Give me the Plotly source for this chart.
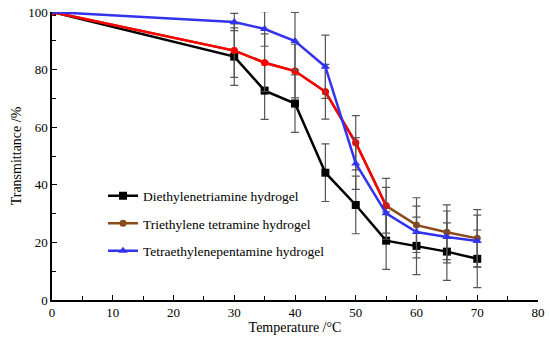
import plotly.graph_objects as go

temps = [0, 30, 35, 40, 45, 50, 55, 60, 65, 70]
deta = [100, 84.5, 72.7, 68.2, 44.2, 33.0, 20.6, 18.8, 16.8, 14.3]
deta_err = [0, 10, 10, 10, 10, 10, 10, 10, 10, 10]
teta = [100, 86.6, 82.4, 79.5, 72.3, 54.6, 32.7, 26.0, 23.5, 21.4]
teta_err = [0, 9.3, 10, 9.3, 9.5, 9.4, 9.5, 9.5, 9.5, 10]
tepa = [100, 96.5, 94.1, 89.9, 81.0, 47.4, 30.1, 23.6, 21.9, 20.5]
tepa_err = [0, 3, 6, 10, 11, 9, 9, 9, 9, 9]
names = ["Diethylenetriamine hydrogel", "Triethylene tetramine hydrogel",
         "Tetraethylenepentamine hydrogel"]
n_red = 7  # red part of the triethylene curve (0..50 °C)

FONT = "Liberation Serif, Times New Roman, serif"
ebar = dict(type="data", visible=True, color="#555555", thickness=1.2, width=4)

fig = go.Figure()
fig.add_trace(go.Scatter(x=temps, y=deta, name=names[0], mode="lines+markers",
                         line=dict(color="black", width=2.5),
                         marker=dict(symbol="square", size=8, color="black"),
                         error_y=dict(array=deta_err, **ebar), legendgroup="a"))
fig.add_trace(go.Scatter(x=temps, y=teta, name=names[1], mode="lines+markers",
                         line=dict(color="#8B4A1A", width=2.5),
                         marker=dict(symbol="circle", size=7, color="#8B4A1A"),
                         error_y=dict(array=teta_err, **ebar), legendgroup="b"))
fig.add_trace(go.Scatter(x=temps[:n_red], y=teta[:n_red], mode="lines+markers",
                         showlegend=False,
                         line=dict(color="#FF0000", width=2.5),
                         marker=dict(symbol="circle", size=7, color="#FF0000"),
                         legendgroup="b"))
fig.add_trace(go.Scatter(x=temps, y=tepa, name=names[2], mode="lines+markers",
                         line=dict(color="#3333EE", width=2.5),
                         marker=dict(symbol="triangle-up", size=8, color="#3333EE"),
                         error_y=dict(array=tepa_err, **ebar), legendgroup="c"))

fig.update_layout(
    width=550, height=342,
    margin=dict(l=52, r=12, t=12, b=42),
    paper_bgcolor="white", plot_bgcolor="white",
    font=dict(family=FONT, size=13, color="black"),
    showlegend=True,
    legend=dict(x=0.105, y=0.415, xanchor="left", yanchor="top",
                bgcolor="rgba(0,0,0,0)", font=dict(size=13.5),
                traceorder="grouped", tracegroupgap=7, itemwidth=30),
    xaxis=dict(range=[0, 80], dtick=10, ticks="inside", ticklen=5,
               showline=True, linecolor="black", linewidth=1.5, showgrid=False,
               zeroline=False, tickcolor="black", automargin=False,
               minor=dict(dtick=5, ticks="inside", ticklen=4, tickcolor="black"),
               title=dict(text="Temperature /°C", font=dict(size=14), standoff=2)),
    yaxis=dict(range=[0, 100], dtick=20, ticks="inside", ticklen=5,
               showline=True, linecolor="black", linewidth=1.5, showgrid=False,
               zeroline=False, tickcolor="black", automargin=False,
               minor=dict(dtick=10, ticks="inside", ticklen=4, tickcolor="black"),
               title=dict(text="Transmittance /%", font=dict(size=14), standoff=3)),
)
fig.write_html("out.html", config={"displayModeBar": False})

# remove the browser's default 8px body margin so the figure sits at (0, 0)
with open("out.html", encoding="utf-8") as f:
    html = f.read()
html = html.replace("<head>", "<head><style>body{margin:0;}</style>", 1)
with open("out.html", "w", encoding="utf-8") as f:
    f.write(html)
